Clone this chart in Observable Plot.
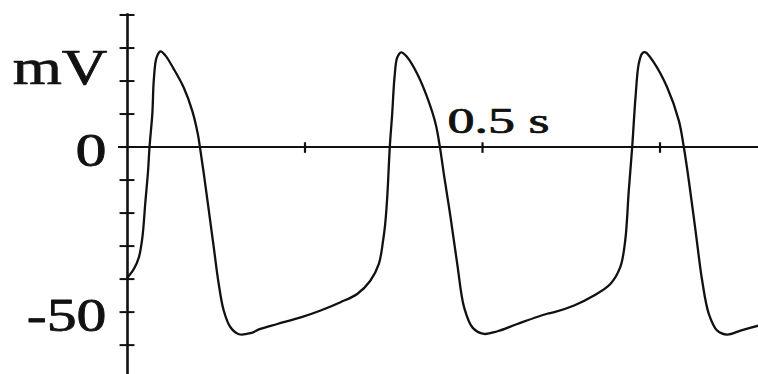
<!DOCTYPE html>
<html><head><meta charset="utf-8">
<script src="https://cdn.jsdelivr.net/npm/d3@7"></script>
<script src="https://cdn.jsdelivr.net/npm/@observablehq/plot@0.6"></script>
<style>
body{margin:0;background:#fff}
#chart svg{display:block;background:#fff}
#chart svg text{font-family:"Liberation Serif",serif}
</style>
</head><body><div id="chart"></div>
<script>
// Time (s) and membrane potential (mV)
const timeS = [0.000,0.009,0.016,0.021,0.025,0.029,0.031,0.035,0.037,0.041,0.0465,0.0535,0.065,0.079,0.091,0.099,0.102,0.1075,0.1145,0.1215,0.1285,0.1355,0.145,0.157,0.173,0.187,0.211,0.244,0.272,0.300,0.3235,0.342,0.354,0.360,0.3627,0.3658,0.3694,0.3728,0.3761,0.380,0.3855,0.394,0.408,0.422,0.434,0.440,0.4455,0.455,0.4644,0.474,0.486,0.502,0.521,0.549,0.591,0.600,0.629,0.657,0.680,0.694,0.701,0.706,0.7108,0.7155,0.720,0.725,0.7296,0.741,0.760,0.7765,0.7835,0.7906,0.800,0.8094,0.8187,0.8306,0.8446,0.8634,0.8887];
const membraneMV = [-39.5,-36.9,-33.4,-27.3,-17.1,-7.1,0.0,10.2,20.2,27.2,29.0,27.7,23.7,18.1,11.1,4.0,0.0,-8.1,-19.2,-30.4,-41.5,-49.5,-54.6,-56.7,-56.4,-55.1,-53.6,-51.6,-49.5,-47.0,-44.5,-40.5,-35.4,-28.3,-23.8,-15.2,0.0,10.1,21.2,27.2,28.7,27.2,22.2,15.1,7.0,0.0,-8.1,-21.3,-35.4,-48.5,-54.7,-56.6,-55.8,-53.6,-50.5,-50.1,-48.0,-45.0,-41.5,-36.4,-28.3,-13.2,0.0,15.1,25.2,28.4,28.7,25.7,18.1,8.0,0.0,-10.2,-25.3,-40.5,-50.5,-55.6,-56.8,-55.6,-54.1];

const yTickValues = [40,30,20,10,0,-10,-20,-30,-40,-50,-60];
const xTickValues = [0.25,0.5,0.75];
const yLabelValues = [0,-50];
const yLabelTexts = ["0","-50"];
const xLabelValues = [0.5];
const xLabelTexts = ["0.5 s"];
const unitLabel = ["mV"];

const trace = timeS.map((t,i)=>({t, v: membraneMV[i]}));
const ink = "#111";
const textStyle = {fill: ink, stroke: ink, strokeWidth: 0.75};

const chart = Plot.plot({
  width: 758, height: 374,
  marginLeft: 127, marginRight: 0, marginTop: 0, marginBottom: 0,
  style: {background: "#fff", overflow: "visible"},
  x: {domain: [0, 0.8887], axis: null},
  y: {domain: [-68.9, 44.4], axis: null},
  marks: [
    Plot.ruleY([0], {x1: -0.0127, x2: 0.8887, stroke: ink, strokeWidth: 2}),
    Plot.ruleX([0], {y1: 40.4, y2: -68.9, stroke: ink, strokeWidth: 2.6}),
    Plot.ruleY(yTickValues, {y: d=>d, x1: -0.0105, x2: 0.0105, stroke: ink, strokeWidth: 2}),
    Plot.ruleX(xTickValues, {x: d=>d, y1: 1.3, y2: -1.9, stroke: ink, strokeWidth: 2.2}),
    Plot.line(trace, {x: "t", y: "v", curve: "catmull-rom", stroke: ink, strokeWidth: 2.3}),
    Plot.text(yLabelTexts, {x: 0, y: (d,i)=>yLabelValues[i], text: d=>d, textAnchor: "end", lineAnchor: "middle", dx: -21, dy: 4, fontSize: 46, ...textStyle}),
    Plot.text(unitLabel, {x: 0, y: 0, text: d=>d, textAnchor: "end", lineAnchor: "bottom", dx: -20, dy: -63.5, fontSize: 51, ...textStyle}),
    Plot.text(xLabelTexts, {x: (d,i)=>xLabelValues[i], y: 0, text: d=>d, textAnchor: "start", lineAnchor: "bottom", dx: -35, dy: -14.5, fontSize: 36, ...textStyle})
  ]
});

// horizontal stretch of the label glyphs, as in the picture
const stretch = {"0": 1.35, "-50": 1.3, "mV": 1.24, "0.5 s": 1.5};
chart.querySelectorAll("text").forEach(t => {
  const s = stretch[t.textContent];
  if (!s) return;
  const tr = t.getAttribute("transform") || "";
  t.setAttribute("transform", tr + ` scale(${s},1)`);
});
document.getElementById("chart").appendChild(chart);
</script>
</body></html>
